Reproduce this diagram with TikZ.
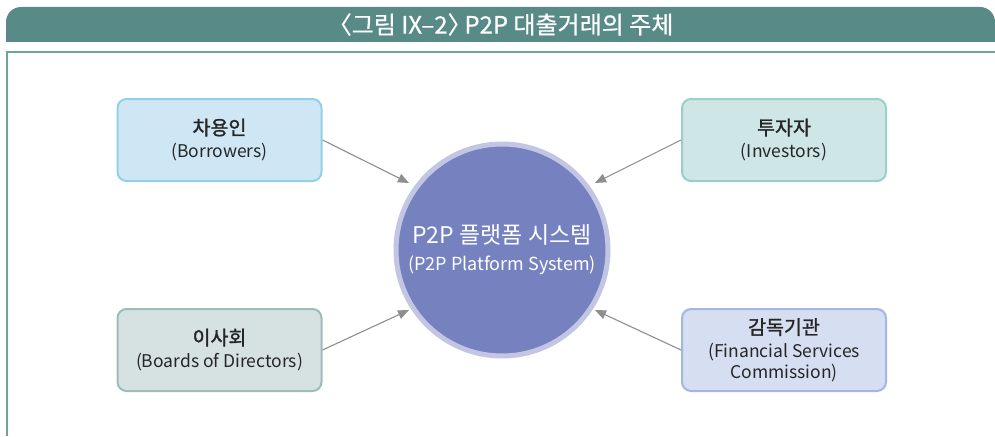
\documentclass[tikz,border=0pt]{standalone}
\usepackage{fontspec}
\setmainfont{Noto Sans CJK KR}
\newfontfamily\krbold{Noto Sans CJK KR}[FakeBold=1.5]
\newfontfamily\krmed{Noto Sans CJK KR}[FakeBold=0.6]
\usetikzlibrary{arrows.meta}
\definecolor{titlebg}{HTML}{588A87}
\definecolor{framec}{HTML}{6FA3A1}
\definecolor{arrowc}{HTML}{8E8E8E}
\definecolor{bfill}{HTML}{CFE7F4}\definecolor{bdraw}{HTML}{92D0EA}
\definecolor{ifill}{HTML}{CFE6E6}\definecolor{idraw}{HTML}{9ACECD}
\definecolor{dfill}{HTML}{D6E1E1}\definecolor{ddraw}{HTML}{9DBDBB}
\definecolor{ffill}{HTML}{D6DEF1}\definecolor{fdraw}{HTML}{A2B7E1}
\definecolor{cfill}{HTML}{7681C0}\definecolor{cdraw}{HTML}{C3C6E3}
\tikzset{
  actor/.style={rounded corners=9pt, line width=2pt, minimum width=204pt, minimum height=82pt, align=center, inner sep=0pt, text=black!85, font=\fontsize{17.5}{22}\selectfont},
  conn/.style={draw=arrowc, line width=1.1pt, -{Triangle[length=11pt,width=9pt]}},
}
\newcommand{\krt}[1]{{\fontsize{19.5}{24}\selectfont\krbold #1}}
\begin{document}
\begin{tikzpicture}[x=1pt,y=-1pt]
\useasboundingbox (0,0) rectangle (995,436);
\fill[white] (0,0) rectangle (995,436);
% title bar
\fill[titlebg] (6,42) -- (6,22) [rounded corners=15pt] -- (6,7) -- (995,7) [sharp corners] -- (995,42) -- cycle;
\node[text=white, font=\fontsize{24}{26}\selectfont\krmed] (title) at (506,24.5) {\kern-0.45em〈그림 IX–2〉\kern-0.3em P2P 대출거래의 주체};
% frame
\draw[framec, line width=1.2pt] (995,52) -- (7,52) -- (7,436);
% nodes
\node[actor, fill=bfill, draw=bdraw] (bor) at (219.5,140) {\krt{차용인}\\[1pt](Borrowers)};
\node[actor, fill=ifill, draw=idraw] (inv) at (784,140) {\krt{투자자}\\[1pt](Investors)};
\node[actor, fill=dfill, draw=ddraw] (dir) at (219.5,350) {\krt{이사회}\\[1pt](Boards of Directors)};
\node[actor, fill=ffill, draw=fdraw] (fsc) at (784,350) {\krt{감독기관}\\[1pt](Financial Services\\[-1pt]Commission)};
\node[circle, fill=cfill, draw=cdraw, line width=5pt, minimum size=212pt, inner sep=0pt, align=center, text=white, font=\fontsize{18}{24}\selectfont] (plat) at (502,250)
  {{\fontsize{23}{27}\selectfont P2P 플랫폼 시스템}\\[3pt](P2P Platform System)};
% connectors
\coordinate (a1) at (409,183);
\coordinate (a2) at (595,183);
\coordinate (a3) at (409,310);
\coordinate (a4) at (595,310);
\draw[conn] (bor.east) -- (a1);
\draw[conn] (inv.west) -- (a2);
\draw[conn] (dir.east) -- (a3);
\draw[conn] (fsc.west) -- (a4);
\end{tikzpicture}
\end{document}
